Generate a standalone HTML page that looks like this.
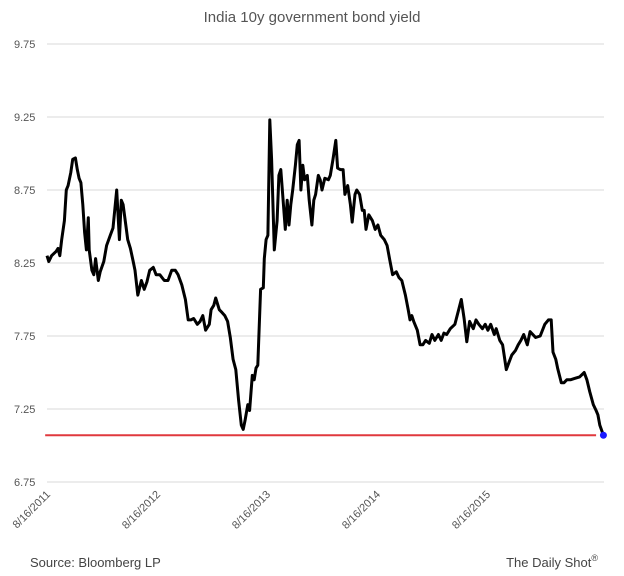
<!DOCTYPE html>
<html><head><meta charset="utf-8"><style>
body{margin:0;background:#fff;}
svg{display:block;font-family:"Liberation Sans",sans-serif;}
</style></head><body>
<svg id="chart" width="624" height="576" xmlns="http://www.w3.org/2000/svg">
<text x="312" y="22" text-anchor="middle" font-size="15" fill="#555">India 10y government bond yield</text>
<g id="grid"></g>
<g id="yaxis"></g>
<g id="xaxis"></g>
<g id="series"></g>
<text x="30" y="567" font-size="13" fill="#444">Source: Bloomberg LP</text>
<text x="598" y="567" text-anchor="end" font-size="13" fill="#444">The Daily Shot<tspan font-size="9" dy="-6">®</tspan></text>
</svg>
<script>
// months since 8/16/2011
const months=[0,0.2,0.5,1.0,1.2,1.4,1.6,1.9,2.1,2.3,2.6,2.8,3.1,3.3,3.5,3.7,3.9,4.1,4.3,4.5,4.6,4.9,5.1,5.3,5.6,5.8,6.2,6.5,6.9,7.2,7.6,7.9,8.1,8.3,8.6,8.8,9.1,9.4,9.6,9.9,10.3,10.6,10.9,11.2,11.6,11.9,12.3,12.8,13.2,13.6,14.0,14.3,14.7,15.1,15.4,15.7,16.0,16.4,16.7,17.0,17.3,17.7,17.9,18.2,18.4,18.8,19.1,19.4,19.7,20.0,20.3,20.6,20.9,21.2,21.4,21.6,21.9,22.1,22.4,22.6,22.8,23.0,23.3,23.6,23.7,23.9,24.1,24.3,24.5,24.8,25.1,25.3,25.5,26.0,26.2,26.4,26.6,26.8,27.1,27.3,27.5,27.7,27.9,28.1,28.4,28.6,28.9,29.1,29.3,29.6,29.8,30.0,30.3,30.7,30.9,31.2,31.5,31.7,32.0,32.3,32.5,32.8,33.1,33.3,33.6,33.8,34.1,34.4,34.6,34.8,35.1,35.5,35.8,36.1,36.4,36.8,37.1,37.4,37.7,38.1,38.4,38.7,39.1,39.4,39.6,39.8,40.0,40.4,40.7,41.0,41.3,41.7,42.0,42.3,42.7,43.0,43.3,43.6,44.0,44.5,45.2,45.5,45.8,46.1,46.5,46.8,47.1,47.5,47.8,48.1,48.4,48.8,49.0,49.4,49.7,50.1,50.4,50.7,51.1,51.4,51.7,52.0,52.4,52.7,53.0,53.3,53.8,54.3,54.7,55.0,55.2,55.5,55.7,56.1,56.4,56.7,57.1,57.6,58.1,58.6,58.9,59.2,59.6,59.9,60.1,60.3,60.7];
const yields=[8.30,8.26,8.30,8.33,8.35,8.30,8.41,8.54,8.75,8.78,8.87,8.96,8.97,8.89,8.83,8.80,8.65,8.46,8.34,8.56,8.34,8.20,8.17,8.28,8.13,8.19,8.26,8.37,8.44,8.49,8.75,8.41,8.68,8.65,8.51,8.41,8.35,8.26,8.20,8.03,8.13,8.07,8.12,8.20,8.22,8.17,8.17,8.13,8.13,8.20,8.20,8.17,8.10,8.00,7.86,7.86,7.87,7.83,7.85,7.89,7.79,7.83,7.93,7.96,8.01,7.93,7.91,7.89,7.85,7.74,7.59,7.52,7.31,7.14,7.11,7.17,7.28,7.24,7.48,7.45,7.53,7.55,8.07,8.08,8.28,8.41,8.44,9.23,8.96,8.34,8.54,8.85,8.89,8.48,8.68,8.51,8.65,8.75,8.92,9.06,9.09,8.75,8.92,8.82,8.85,8.68,8.51,8.68,8.72,8.85,8.82,8.75,8.83,8.82,8.85,8.96,9.09,8.90,8.89,8.89,8.72,8.78,8.65,8.53,8.72,8.75,8.72,8.61,8.61,8.48,8.58,8.54,8.48,8.51,8.44,8.41,8.37,8.27,8.17,8.19,8.15,8.13,8.03,7.93,7.86,7.89,7.85,7.79,7.69,7.69,7.72,7.70,7.76,7.72,7.76,7.72,7.77,7.76,7.80,7.83,8.00,7.87,7.71,7.85,7.80,7.86,7.83,7.80,7.83,7.79,7.83,7.76,7.80,7.72,7.69,7.52,7.57,7.62,7.65,7.69,7.72,7.76,7.69,7.78,7.76,7.74,7.75,7.83,7.86,7.86,7.64,7.59,7.53,7.43,7.43,7.45,7.45,7.46,7.47,7.50,7.45,7.37,7.28,7.24,7.21,7.14,7.07];
const yTicks=[6.75,7.25,7.75,8.25,8.75,9.25,9.75];
const xTickLabels=["8/16/2011","8/16/2012","8/16/2013","8/16/2014","8/16/2015"];
const xTickMonths=[0,12,24,36,48];
const refLevel=7.07;
const refStart=-0.2, refEnd=59.9;

const NS="http://www.w3.org/2000/svg";
const X=m=>47+m*110/12;
const Y=v=>482-(v-6.75)*146;
function mk(tag,attrs,parent){const e=document.createElementNS(NS,tag);for(const k in attrs)e.setAttribute(k,attrs[k]);parent.appendChild(e);return e;}
const grid=document.getElementById('grid'),ya=document.getElementById('yaxis'),xa=document.getElementById('xaxis'),ser=document.getElementById('series');
yTicks.forEach(t=>{
  const l=mk('line',{x1:47,x2:604,y1:Y(t),y2:Y(t),stroke:'#d9d9d9','stroke-width':1},grid);
  
  
  const tx=mk('text',{x:14,y:Y(t)+4,'font-size':11,fill:'#555'},ya);
  
  
  tx.textContent=t.toFixed(2);
});
xTickLabels.forEach((s,i)=>{
  const x=X(xTickMonths[i]);
  const tx=mk('text',{x:0,y:0,'font-size':11,fill:'#555','text-anchor':'end',transform:`translate(${x+4},${495}) rotate(-45)`},xa);
  
  
  tx.textContent=s;
});
const ref=mk('line',{x1:X(refStart),x2:X(refEnd),y1:Y(refLevel),y2:Y(refLevel),stroke:'#e0393e','stroke-width':2},ser);


const d=months.map((m,i)=>(i?'L':'M')+X(m).toFixed(1)+','+Y(yields[i]).toFixed(1)).join(' ');
const p=mk('path',{d:d,fill:'none',stroke:'#000','stroke-width':3,'stroke-linejoin':'round'},ser);


const n=months.length-1;
const dot=mk('circle',{cx:X(months[n]),cy:Y(yields[n]),r:3.5,fill:'#1a1aff'},ser);


</script>
</body></html>
